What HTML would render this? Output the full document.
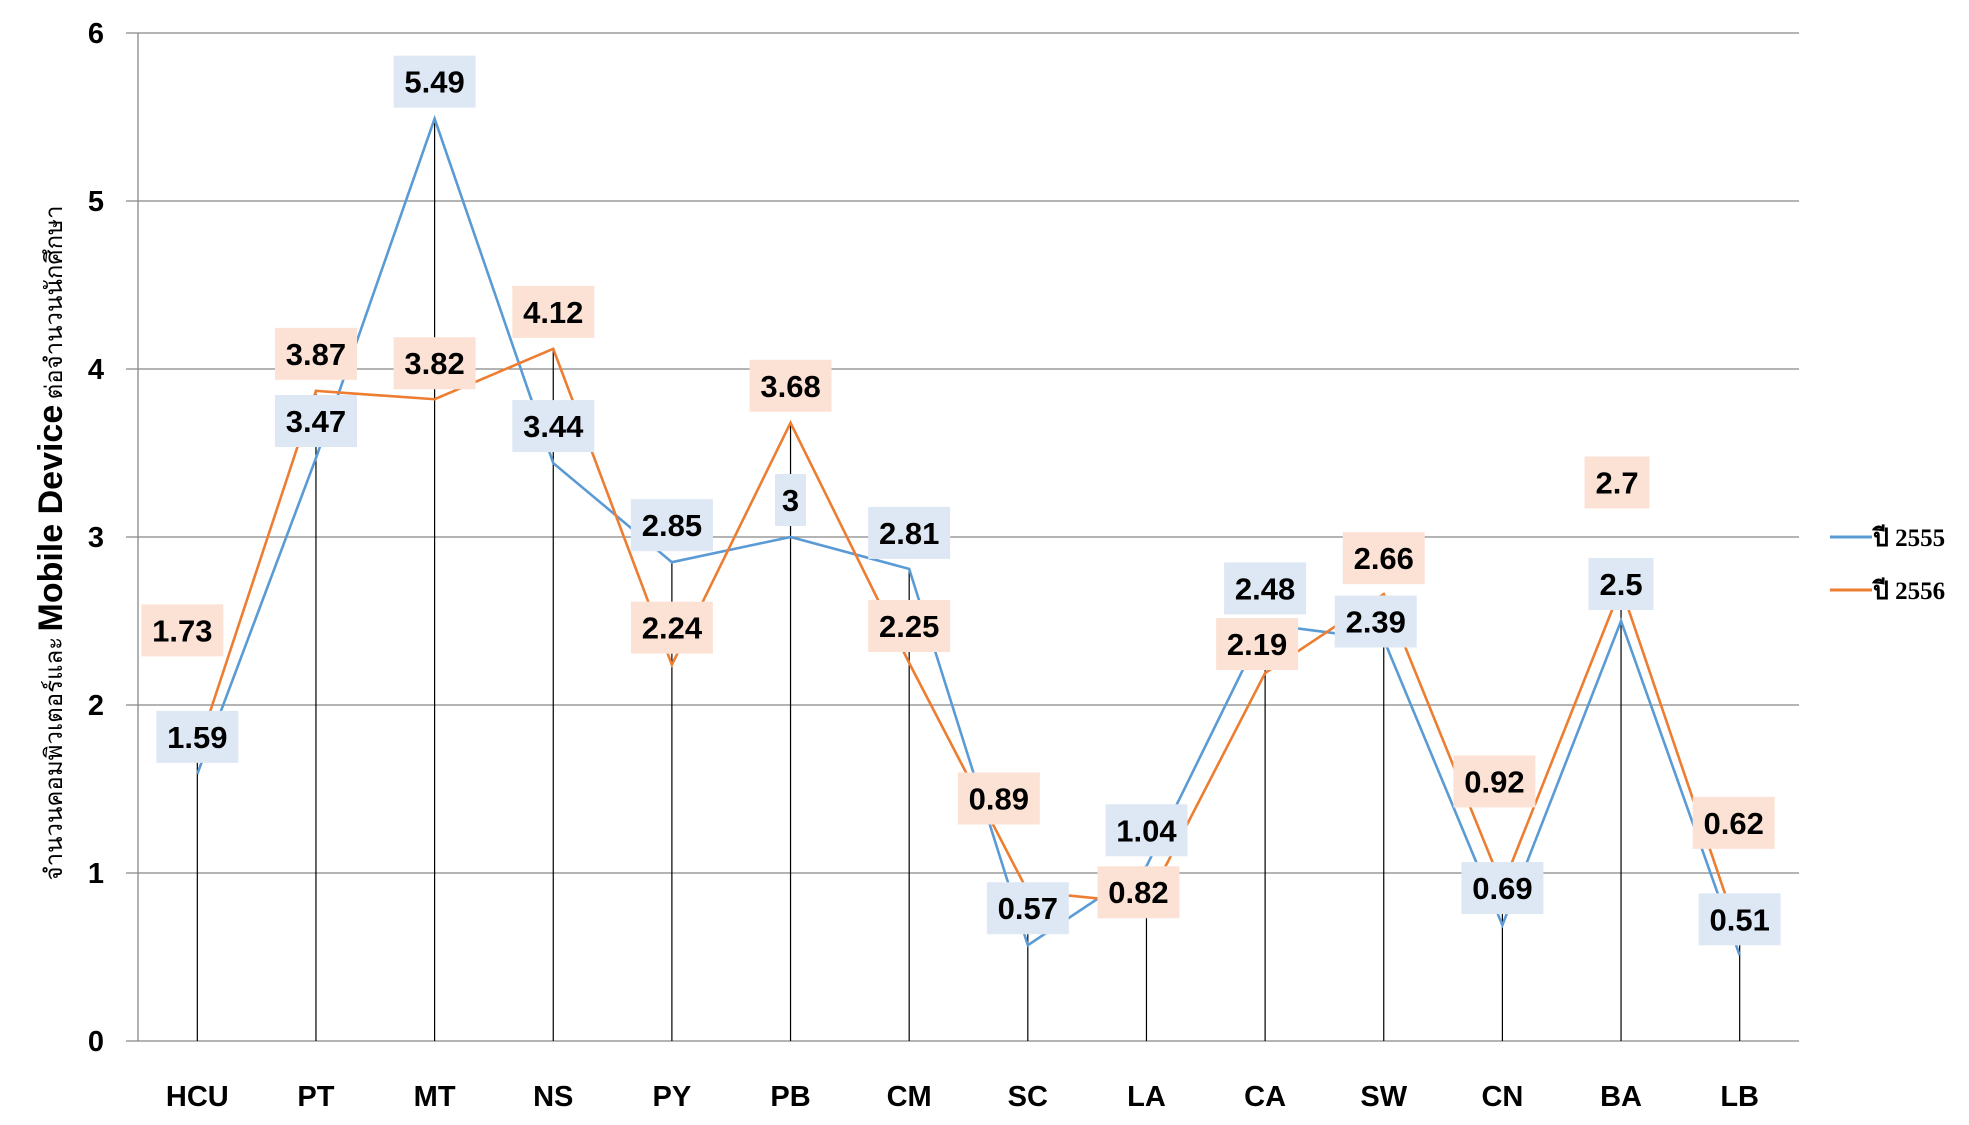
<!DOCTYPE html>
<html><head><meta charset="utf-8">
<style>
html,body{margin:0;padding:0;background:#fff;}
body{width:1969px;height:1125px;overflow:hidden;position:relative;font-family:"Liberation Sans","Noto Sans CJK SC",sans-serif;}
svg{position:absolute;left:0;top:0;}
</style></head>
<body>
<svg id="chart" width="1969" height="1125"></svg>
<script>
const categories = ["HCU","PT","MT","NS","PY","PB","CM","SC","LA","CA","SW","CN","BA","LB"];
const series2555 = [1.59,3.47,5.49,3.44,2.85,3,2.81,0.57,1.04,2.48,2.39,0.69,2.5,0.51];
const series2556 = [1.73,3.87,3.82,4.12,2.24,3.68,2.25,0.89,0.82,2.19,2.66,0.92,2.7,0.62];
const yTicks = [0,1,2,3,4,5,6];
const seriesNames = ["ปี 2555","ปี 2556"];
// label offsets (styling) relative to point
const offB = [[0,-37],[0,-37],[0,-37],[0,-37],[0,-37],[0,-37],[0,-36],[0,-37],[0,-36],[0,-36],[-8,-18],[0,-37],[0,-37],[0,-36]];
const offO = [[-15,-120],[0,-37],[0,-36],[0,-37],[0,-37],[0,-37],[0,-37],[-29,-93],[-8,-11],[-8,-29],[0,-36],[-8,-105],[-4,-105],[-6,-114]];

const NS="http://www.w3.org/2000/svg";
const svg=document.getElementById('chart');
const L=138,R=1799,T=33,B=1041,YMAX=6;
const bw=(R-L)/categories.length;
function xs(i){return L+bw*(i+0.5);}
function ys(v){return B-(v/YMAX)*(B-T);}
function mk(tag,attrs,parent){const e=document.createElementNS(NS,tag);for(const k in attrs)e.setAttribute(k,attrs[k]);(parent||svg).appendChild(e);return e;}

// gridlines + y labels
yTicks.forEach(t=>{
  const g=mk('line',{x1:126,x2:R,y1:ys(t),y2:ys(t),stroke:'#888','stroke-width':1.3});
  
  
  const tx=mk('text',{x:104,y:ys(t)+10,'text-anchor':'end','font-size':29,'font-weight':'bold',fill:'#000'});
  tx.textContent=t;
  
  
});
const ax=mk('line',{x1:L,x2:L,y1:T,y2:B,stroke:'#888','stroke-width':1.3});



// drop lines
categories.forEach((c,i)=>{
  const m=Math.max(series2555[i],series2556[i]);
  const d=mk('line',{x1:xs(i),x2:xs(i),y1:ys(m),y2:B,stroke:'#000','stroke-width':1.2});
  
  
  const t=mk('text',{x:xs(i),y:1106,'text-anchor':'middle','font-size':29,'font-weight':'bold',fill:'#000'});
  t.textContent=c;
  
  
});

function line(vals,color,name){
  const p=mk('polyline',{points:vals.map((v,i)=>xs(i)+','+ys(v)).join(' '),fill:'none',stroke:color,'stroke-width':2.6,'stroke-linejoin':'miter'});
  
  
}
line(series2555,'#5b9bd5','series-2555-line');
line(series2556,'#ed7d31','series-2556-line');

function labels(vals,off,bg,name){
  vals.forEach((v,i)=>{
    const cx=xs(i)+off[i][0], cy=ys(v)+off[i][1];
    const s=String(v);
    const w=s.length*17+14;
    const g=mk('g',{});
    
    
    mk('rect',{x:cx-w/2,y:cy-26,width:w,height:52,fill:bg},g);
    const t=mk('text',{x:cx,y:cy+11,'text-anchor':'middle','font-size':31,'font-weight':'bold',fill:'#000'},g);
    t.textContent=s;
  });
}
labels(series2556,offO,'#fbe2d5','label-2556');
labels(series2555,offB,'#dde8f4','label-2555');

// y-axis title
const yt=mk('text',{transform:'translate(62,543) rotate(-90)','text-anchor':'middle',fill:'#000'});


yt.innerHTML='<tspan font-size="24" font-family="Noto Sans CJK SC, sans-serif">จำนวนคอมพิวเตอร์และ </tspan><tspan font-size="34" font-weight="bold">Mobile Device</tspan><tspan font-size="24" font-family="Noto Sans CJK SC, sans-serif"> ต่อจำนวนนักศึกษา</tspan>';

// legend
[['#5b9bd5',537],['#ed7d31',590]].forEach((c,k)=>{
  const g=mk('g',{});
  
  
  mk('line',{x1:1830,x2:1872,y1:c[1],y2:c[1],stroke:c[0],'stroke-width':3},g);
  const t=mk('text',{x:1873,y:c[1]+9,'font-size':25,'font-weight':'bold','font-family':'Liberation Serif, Noto Serif CJK SC, serif',fill:'#000'},g);
  t.textContent=seriesNames[k];
});
</script>
</body></html>
